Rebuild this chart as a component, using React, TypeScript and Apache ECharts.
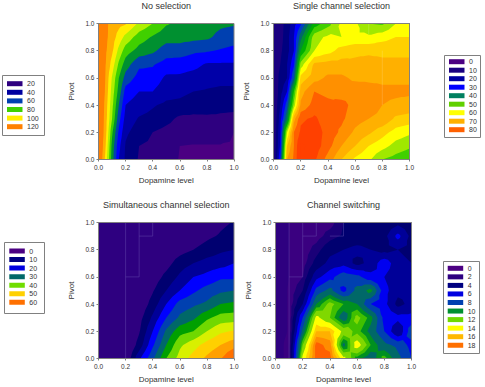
import React, { useEffect, useRef } from "react";
import * as echarts from "echarts";

const yValues = [0, 0.1, 0.2, 0.3, 0.4, 0.5, 0.6, 0.7, 0.8, 0.9, 1];
const fineX = [0, 0.05, 0.1, 0.15, 0.2, 0.3, 0.4, 0.5, 0.6, 0.7, 0.8, 0.9, 1];
const evenX = [0, 0.1, 0.2, 0.3, 0.4, 0.5, 0.6, 0.7, 0.8, 0.9, 1];

// each inner list is one x column, from Pivot 0 to Pivot 1
const noSelection = [
  [135, 135, 135, 135, 135, 135, 135, 135, 135, 135, 135],
  [108, 112, 115, 116, 117, 119, 120, 121, 122, 123, 123],
  [75, 77, 82, 90, 93, 96, 99, 106, 112, 115, 116],
  [50, 53, 58, 64, 70, 76, 80, 88, 97, 106, 113],
  [38, 39, 42, 46, 50, 56, 66, 75, 85, 97, 111],
  [29, 30, 35, 39, 45, 50, 56, 62, 76, 85, 98],
  [26, 28, 30, 37, 41, 50, 56, 61, 72, 79, 90],
  [23, 25, 27, 33, 38, 44, 48, 56, 65, 74, 81],
  [19.5, 20, 25, 28, 37, 43, 48, 55, 65, 74, 78],
  [19, 19.5, 24, 28, 34, 40, 46, 53, 62, 73, 77],
  [19, 19.5, 24, 28, 35, 39, 44, 49, 61, 72, 75],
  [19, 19.5, 24, 28, 33, 38, 43, 49, 59, 67, 72],
  [18, 19, 20, 27, 33, 38, 43, 49, 57, 65, 71],
];
const singleChannel = [
  [4, 4, 4, 4, 4, 4, 5, 5, 5, 6, 6],
  [25, 21, 20, 18, 15, 13, 12, 10, 9, 8, 8],
  [70, 65, 55, 35, 28, 20, 15, 15, 13, 13, 12],
  [76, 75, 75, 68, 52, 45, 30, 24, 20, 20, 18],
  [86, 86, 81, 79, 71, 68, 62, 52, 40, 33, 24],
  [81, 83, 83, 81, 77, 75, 68, 66, 55, 53, 42],
  [73, 77, 78, 77, 76, 74, 71, 67, 58, 56, 48],
  [65, 70, 74, 76, 77, 72, 71, 67, 62, 55, 56],
  [59, 65, 69, 72, 73, 73, 69, 66, 64, 56, 56],
  [56, 60, 66, 70, 72, 72, 69, 67, 64, 56, 50],
  [50, 57, 62, 69, 70, 71, 69, 66, 64, 58, 49],
  [48, 53, 58, 64, 69, 71, 69, 66, 64, 60, 55],
  [46, 51, 56, 63, 68, 71, 69, 66, 64, 60, 56],
];
const simultaneous = [
  [2, 2, 2, 2, 2, 2, 2, 2, 2, 2, 2],
  [2, 2, 2, 2, 2, 2, 2, 2, 2, 2, 2],
  [5, 4, 3, 3, 3, 2, 2, 2, 2, 2, 2],
  [19, 12, 9.5, 8, 6, 5, 4, 3, 2, 2, 2],
  [29, 24, 20, 16, 12, 9.5, 7, 5, 3, 2, 2],
  [40, 35, 31, 25, 20, 15, 11.5, 8, 6, 4, 2],
  [47, 44, 38, 31, 27, 20, 16, 12.5, 8, 5, 3],
  [52, 48, 40, 34, 29, 24, 20, 15, 10, 7, 5],
  [56, 52, 45, 39, 31, 27, 21.5, 17, 12, 9, 7],
  [59.5, 55, 49, 42, 35, 29, 24, 18, 14, 10.5, 9],
  [66, 58, 50.5, 42.5, 36, 30, 24, 20, 15, 12, 10.3],
];
const switching = [
  [0, 0, 0, 0, 0, 0, 0, 0, 0, 0, 0],
  [1, 1, 0.7, 0.7, 0.7, 0.7, 0.6, 0.6, 0.6, 0.6, 0.6],
  [14, 12, 9, 7, 4, 2.5, 1.5, 1, 0.8, 0.7, 0.7],
  [18.5, 18.5, 16, 14, 10, 7.5, 5, 3, 2, 1, 0.9],
  [18.5, 17.5, 16, 12, 12.5, 9, 6.5, 4.5, 3.5, 2, 1],
  [14, 9.5, 13, 9, 11, 6.5, 8, 5, 4, 2.7, 2.5],
  [10.5, 14.5, 11.5, 12.5, 10, 9, 7.5, 3.5, 4.5, 3, 3],
  [9, 11, 9.5, 10.5, 7, 10.5, 6, 4.5, 4, 3, 3],
  [11.5, 9, 7, 6.5, 6, 6, 5.5, 6.5, 3.5, 3.5, 3],
  [9, 8, 4, 6, 3.5, 4.5, 4.5, 4.5, 4, 6, 3.5],
  [7, 6.5, 8, 6, 4.5, 4.5, 4, 4, 3.5, 3.5, 3],
];

const noSelectionLevels = [20, 30, 40, 50, 60, 70, 80, 90, 100, 110, 120];
const noSelectionColors = ["#4b0082", "#2e0080", "#000080", "#0000a8", "#0000ff", "#0040b0", "#009030", "#40d000", "#b0f000", "#ffee00", "#ffb000", "#ff8000"];
const singleLevels = [5, 10, 15, 20, 25, 30, 35, 40, 45, 50, 55, 60, 65, 70, 75, 80, 85];
const singleColors = ["#2e0080", "#1a0080", "#000080", "#0000a8", "#0000ff", "#0040c0", "#006868", "#009030", "#00b000", "#40d000", "#a0e800", "#ffff00", "#ffd000", "#ffb000", "#ff9000", "#ff6000", "#ff4000", "#ff4000"];
const simultaneousLevels = [10, 15, 20, 25, 30, 35, 40, 45, 50, 55, 60];
const simultaneousColors = ["#2e0080", "#000070", "#000098", "#0000ff", "#0040b0", "#006868", "#00a000", "#70d800", "#d8f000", "#ffd000", "#ffa000", "#ff7000"];
const switchingLevels = [0.6, 1.5, 2.5, 4, 5.5, 7, 8.5, 10, 11, 12, 13.5, 15, 16, 17, 18];
const switchingColors = ["#2e0080", "#3a0080", "#1a0078", "#000070", "#000098", "#0000f0", "#0040b0", "#006868", "#009020", "#40c000", "#80d800", "#ffff00", "#ffd000", "#ffb000", "#ff8c00", "#ff6000"];

const legend1Labels = ["20", "40", "60", "80", "100", "120"];
const legend1Colors = ["#2e0080", "#0000a0", "#0040b0", "#40d000", "#ffee00", "#ff8000"];
const legend2Labels = ["0", "10", "20", "30", "40", "50", "60", "70", "80"];
const legend2Colors = ["#4b0082", "#1a0080", "#0000a0", "#0000ff", "#008060", "#60d000", "#ffff00", "#ffb000", "#ff6000"];
const legend3Labels = ["0", "10", "20", "30", "40", "50", "60"];
const legend3Colors = ["#4b0082", "#000080", "#0000e0", "#006868", "#70dd00", "#ffd000", "#ff7000"];
const legend4Labels = ["0", "2", "4", "6", "8", "10", "12", "14", "16", "18"];
const legend4Colors = ["#4b0082", "#2e0080", "#000080", "#0000e0", "#0040b0", "#009030", "#70d800", "#ffff00", "#ffb800", "#ff7000"];

const titles = ["No selection", "Single channel selection", "Simultaneous channel selection", "Channel switching"];
const xName = "Dopamine level";
const yName = "Pivot";

// faint contour edges that show inside the flat regions: [panel, polyline]
const faintEdges: [number, number[][]][] = [
  [1, [[0.8, 0.4], [0.8, 0.8]]],
  [1, [[0.7, 0.92], [0.7, 1]]],
  [2, [[0.2, 0], [0.2, 1]]],
  [2, [[0.2, 0.6], [0.3, 0.6], [0.3, 1]]],
  [2, [[0.3, 0.9], [0.4, 0.9], [0.4, 1]]],
  [3, [[0.1, 0], [0.1, 1]]],
  [3, [[0.1, 0.6], [0.2, 0.6], [0.2, 1]]],
  [3, [[0.2, 0.9], [0.3, 0.9], [0.3, 1]]],
  [3, [[0.4, 0.9], [0.5, 0.9], [0.5, 1]]],
];

const FONT = "Liberation Sans";

echarts.graphic.registerShape(
  "contourBand",
  echarts.graphic.extendShape({
    shape: { polys: [] as number[][][] },
    buildPath(ctx: any, shape: any) {
      for (const poly of shape.polys) {
        poly.forEach((p: number[], i: number) => (i ? ctx.lineTo(p[0], p[1]) : ctx.moveTo(p[0], p[1])));
        ctx.closePath();
      }
    },
  })
);

// part of a triangle where the value is at least t; vertices are [x, y, value]
function clip(tri: number[][], t: number) {
  const out: number[][] = [];
  for (let i = 0; i < tri.length; i++) {
    const a = tri[i];
    const b = tri[(i + 1) % tri.length];
    if (a[2] >= t) out.push(a);
    if (a[2] >= t !== b[2] >= t) {
      const k = (t - a[2]) / (b[2] - a[2]);
      out.push([a[0] + k * (b[0] - a[0]), a[1] + k * (b[1] - a[1]), t]);
    }
  }
  return out;
}

function contourSeries(index: number, xs: number[], cols: number[][], levels: number[], colors: string[]) {
  return {
    type: "custom",
    xAxisIndex: index,
    yAxisIndex: index,
    silent: true,
    clip: true,
    data: [-Infinity, ...levels].map((l, i) => [i, l]),
    encode: { x: [], y: [] },
    renderItem(_p: any, api: any) {
      const i = api.value(0);
      const t = i === 0 ? -Infinity : levels[i - 1];
      const polys: number[][][] = [];
      for (let a = 0; a < xs.length - 1; a++) {
        for (let b = 0; b < yValues.length - 1; b++) {
          const q = [
            [xs[a], yValues[b], cols[a][b]],
            [xs[a + 1], yValues[b], cols[a + 1][b]],
            [xs[a + 1], yValues[b + 1], cols[a + 1][b + 1]],
            [xs[a], yValues[b + 1], cols[a][b + 1]],
          ];
          const c = [(xs[a] + xs[a + 1]) / 2, (yValues[b] + yValues[b + 1]) / 2, (q[0][2] + q[1][2] + q[2][2] + q[3][2]) / 4];
          for (let k = 0; k < 4; k++) {
            const part = clip([q[k], q[(k + 1) % 4], c], t);
            if (part.length > 2) polys.push(part.map((p) => api.coord([p[0], p[1]])));
          }
        }
      }
      return { type: "contourBand", shape: { polys }, style: { fill: colors[i], stroke: null } };
    },
  };
}

const plots = [
  { left: 98.5, top: 23.5, width: 135.5, height: 136 },
  { left: 273.5, top: 23.5, width: 136, height: 136 },
  { left: 98.5, top: 222.5, width: 135.5, height: 136 },
  { left: 275.5, top: 222.5, width: 136, height: 136 },
];

function legendBox(x: number, y: number, w: number, h: number, swX: number, firstY: number, step: number, labels: string[], colors: string[]) {
  const children: any[] = [
    { type: "rect", shape: { x, y, width: w, height: h }, style: { fill: "#fff", stroke: "#808080", lineWidth: 1 } },
  ];
  labels.forEach((label, i) => {
    children.push({ type: "rect", shape: { x: swX, y: firstY + i * step - 2.5, width: 15.5, height: 5 }, style: { fill: colors[i] } });
    children.push({
      type: "text",
      x: swX + 20,
      y: firstY + i * step,
      style: { text: label, font: `7px "${FONT}"`, fill: "#333", verticalAlign: "middle" },
    });
  });
  return { type: "group", children };
}

export default function App() {
  const ref = useRef<HTMLDivElement>(null);
  useEffect(() => {
    const chart = echarts.init(ref.current!, undefined, { renderer: "svg" });
    const axisBase = {
      type: "value",
      min: 0,
      max: 1,
      interval: 0.2,
      splitLine: { show: false },
      axisLine: { onZero: false, lineStyle: { color: "#808080", width: 1 } },
      axisTick: { length: 2, lineStyle: { color: "#808080", width: 1 } },
      nameTextStyle: { fontFamily: FONT, fontSize: 8, color: "#333" },
      nameLocation: "middle",
    };
    const labelStyle = { fontFamily: FONT, fontSize: 6.5, color: "#333", formatter: (v: number) => v.toFixed(1), margin: 4, hideOverlap: false };
    chart.setOption({
      animation: false,
      backgroundColor: "#fff",
      title: plots.map((p) => ({
        text: titles[plots.indexOf(p)],
        left: p.left + p.width / 2,
        top: p.top - 22,
        padding: 0,
        textAlign: "center",
        textStyle: { fontFamily: FONT, fontSize: 9, fontWeight: "normal", color: "#333" },
      })),
      grid: plots.map((p) => ({ ...p, containLabel: false })),
      xAxis: plots.map((_, i) => ({ ...axisBase, gridIndex: i, name: xName, nameGap: 17, axisLabel: labelStyle })),
      yAxis: plots.map((_, i) => ({ ...axisBase, gridIndex: i, name: yName, nameGap: 23, axisLabel: labelStyle })),
      series: [
        contourSeries(0, fineX, noSelection, noSelectionLevels, noSelectionColors),
        contourSeries(1, fineX, singleChannel, singleLevels, singleColors),
        contourSeries(2, evenX, simultaneous, simultaneousLevels, simultaneousColors),
        contourSeries(3, evenX, switching, switchingLevels, switchingColors),
        ...faintEdges.map(([panel, pts]) => ({
          type: "line",
          xAxisIndex: panel,
          yAxisIndex: panel,
          z: 5,
          silent: true,
          showSymbol: false,
          data: pts,
          lineStyle: { width: 1, color: panel === 1 ? "rgba(255,255,255,0.15)" : "rgba(120,100,190,0.35)" },
        })),
      ],
      graphic: [
        ...plots.map((p) => ({
          type: "rect",
          z: 100,
          silent: true,
          shape: { x: p.left, y: p.top, width: p.width, height: p.height },
          style: { fill: "none", stroke: "#808080", lineWidth: 1 },
        })),
        legendBox(2.5, 75.5, 42, 60, 7, 83.7, 8.6, legend1Labels, legend1Colors),
        legendBox(444.5, 55.5, 36, 82, 449, 61.7, 8.5, legend2Labels, legend2Colors),
        legendBox(4.5, 242.5, 40, 71, 9.3, 251, 8.55, legend3Labels, legend3Colors),
        legendBox(443.5, 261.5, 36, 92, 447.7, 268.3, 8.55, legend4Labels, legend4Colors),
      ],
    });
    return () => chart.dispose();
  }, []);
  return <div ref={ref} style={{ position: "absolute", left: 0, top: 0, width: 485, height: 387 }} />;
}
